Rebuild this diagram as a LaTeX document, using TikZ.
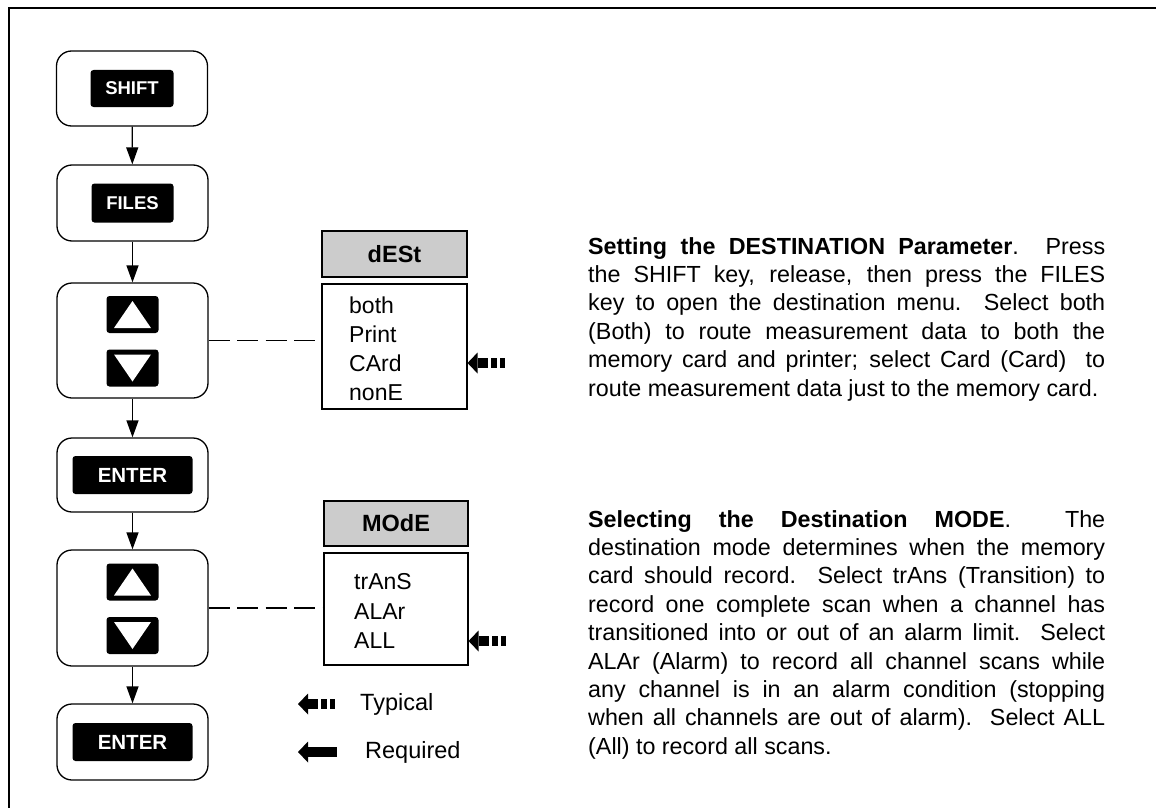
\documentclass[tikz,border=0pt]{standalone}
\usepackage{fontspec}
\setmainfont{Liberation Sans}
\usetikzlibrary{arrows.meta,positioning,calc}

\begin{document}
\begin{tikzpicture}[
  x=1pt, y=-1pt,
  keypad/.style={draw, line width=1.3pt, rounded corners=15pt, minimum width=151pt},
  keycap/.style={fill=black, rounded corners=3pt, text=white, inner sep=0pt,
    font=\fontsize{18.5}{20}\selectfont\bfseries},
  flow/.style={line width=1.3pt, -{Triangle[length=17pt,width=12pt]}},
  link/.style={line width=1.1pt, dash pattern=on 21pt off 7.5pt},
  menuhead/.style={draw, line width=1.1pt, fill=black!20, minimum height=46pt,
    font=\fontsize{23.5}{26}\selectfont\bfseries},
  menulist/.style={draw, line width=1.1pt},
  menuitem/.style={anchor=west, inner sep=0pt, font=\fontsize{23}{26}\selectfont},
  legend/.style={anchor=west, inner sep=0pt, font=\fontsize{23.5}{26}\selectfont},
  para/.style={anchor=north west, inner sep=0pt, text width=517pt, align=justify,
    font=\fontsize{23.3}{28.4}\selectfont},
  upkey/.pic={
    \node[keycap, minimum width=52pt, minimum height=37pt] (-cap) {};
    \fill[white] (-18.5,13.5) -- (18.5,13.5) -- (0,-13.5) -- cycle;
  },
  downkey/.pic={
    \node[keycap, minimum width=52pt, minimum height=37pt] (-cap) {};
    \fill[white] (-18.5,-13.5) -- (18.5,-13.5) -- (0,13.5) -- cycle;
  },
  typical/.pic={
    \fill (0,0) -- (10,-10.5) -- (10,10.5) -- cycle;
    \fill (10,-5) rectangle (20,5);
    \fill (23,-5) rectangle (29,5);
    \fill (32,-5) rectangle (37,5);
  },
  required/.pic={
    \fill (0,0) -- (10,-10.5) -- (10,10.5) -- cycle;
    \fill (10,-5) rectangle (39,5);
  }
]
\useasboundingbox (0,0) rectangle (1156,808);
% frame
\draw[line width=2pt] (8.5,808) -- (8.5,8.5) -- (1160,8.5);
% key sequence
\node[keypad, minimum height=75pt] (shiftpad) at (132,88.5) {};
\node[keycap, minimum width=83pt, minimum height=37pt] (shiftkey) at (shiftpad) {SHIFT};
\node[keypad, minimum height=76pt] (filespad) at (132.5,203) {};
\node[keycap, minimum width=82pt, minimum height=39pt] (fileskey) at (filespad) {FILES};
\node[keypad, minimum height=115pt] (selpad1) at (132.5,340.5) {};
\pic (up1) at ($(selpad1)+(0,-26)$) {upkey};
\pic (down1) at ($(selpad1)+(0,27.5)$) {downkey};
\node[keypad, minimum height=74pt] (enterpad1) at (132.5,475) {};
\node[keycap, minimum width=120pt, minimum height=38pt, font=\fontsize{20.5}{22}\selectfont\bfseries] (enterkey1) at (enterpad1) {ENTER};
\node[keypad, minimum height=116pt] (selpad2) at (132.5,608) {};
\pic (up2) at ($(selpad2)+(0,-26)$) {upkey};
\pic (down2) at ($(selpad2)+(0,27.5)$) {downkey};
\node[keypad, minimum height=76pt] (enterpad2) at (132.5,742) {};
\node[keycap, minimum width=120pt, minimum height=38pt, font=\fontsize{20.5}{22}\selectfont\bfseries] (enterkey2) at (enterpad2) {ENTER};
\draw[flow] (shiftpad) -- (filespad);
\draw[flow] (filespad) -- (selpad1);
\draw[flow] (selpad1) -- (enterpad1);
\draw[flow] (enterpad1) -- (selpad2);
\draw[flow] (selpad2) -- (enterpad2);
% destination menu
\node[menuhead, minimum width=145pt] (desthead) at (394.5,254) {dESt};
\node[menulist, minimum width=145pt, minimum height=125pt] (destlist) at (394.5,346.5) {};
\node[menuitem] (dboth) at (349,305) {both};
\node[menuitem] (dprint) at (349,334) {Print};
\node[menuitem] (dcard) at (349,363) {CArd};
\node[menuitem] (dnone) at (349,393) {nonE};
\draw[link] (selpad1.east) -- (selpad1.east -| destlist.west);
\pic at (destlist.east |- dcard) {typical};
% mode menu
\node[menuhead, minimum width=144pt, minimum height=45pt] (modehead) at (396,523.5) {MOdE};
\node[menulist, minimum width=144pt, minimum height=112pt] (modelist) at (396,609) {};
\node[menuitem] (mtrans) at (354,582) {trAnS};
\node[menuitem] (malar) at (354,612) {ALAr};
\node[menuitem] (mall) at (354,641) {ALL};
\draw[link] (selpad2.east) -- (selpad2.east -| modelist.west);
\pic at (modelist.east |- mall) {typical};
% legend
\pic at (298,704) {typical};
\node[legend] (typlabel) at (360,704) {Typical};
\pic at (298,752) {required};
\node[legend] (reqlabel) at (365,752) {Required};
% notes
\node[para] (destnote) at (588,237) {\textbf{Setting the DESTINATION Parameter}.\ \ Press\linebreak
the SHIFT key, release, then press the FILES\linebreak
key to open the destination menu.\ \ Select both\linebreak
(Both) to route measurement data to both the\linebreak
memory card and printer; select Card (Card)\ \ to\linebreak
route measurement data just to the memory card.};
\node[para] (modenote) at (588,510) {\textbf{Selecting the Destination MODE}.\ \ The\linebreak
destination mode determines when the memory\linebreak
card should record.\ \ Select trAns (Transition) to\linebreak
record one complete scan when a channel has\linebreak
transitioned into or out of an alarm limit.\ \ Select\linebreak
ALAr (Alarm) to record all channel scans while\linebreak
any channel is in an alarm condition (stopping\linebreak
when all channels are out of alarm).\ \ Select ALL\linebreak
(All) to record all scans.};
\end{tikzpicture}
\end{document}
